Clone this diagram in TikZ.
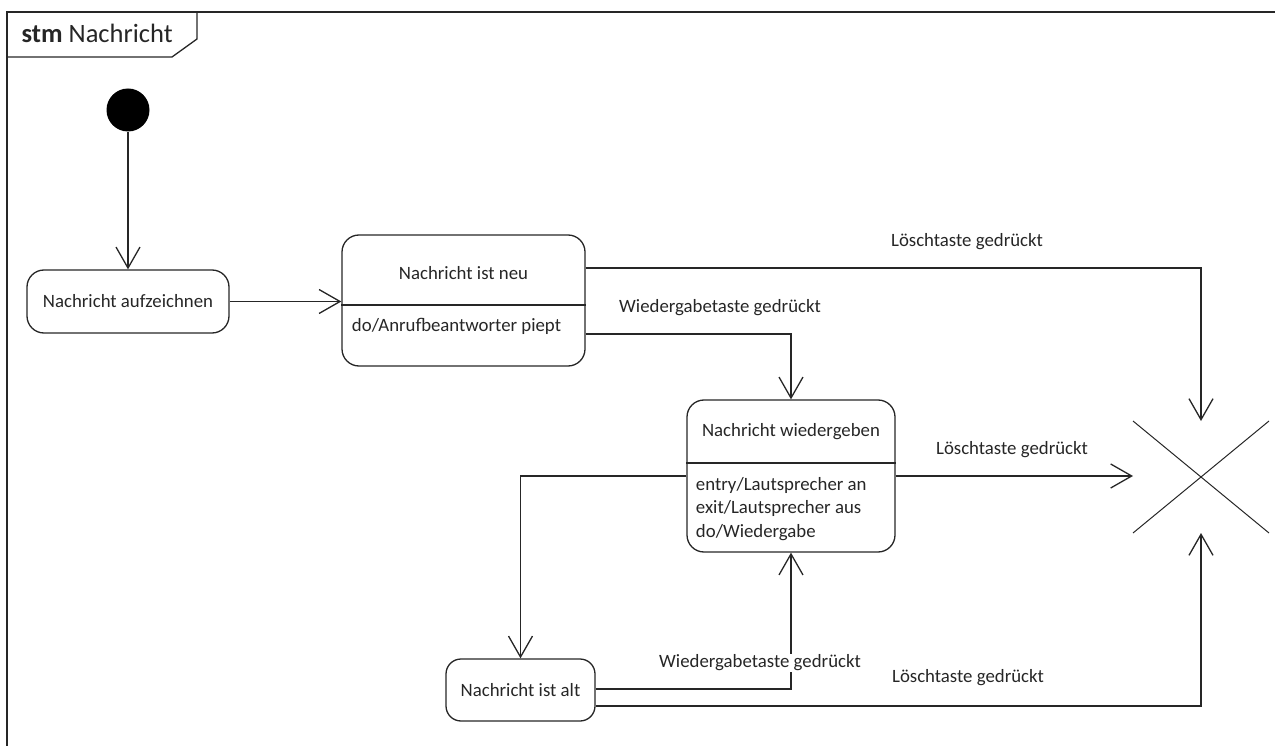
\documentclass[tikz,border=0pt]{standalone}
\usepackage{fontspec}
\setmainfont{Carlito}
\usetikzlibrary{arrows.meta,shapes.misc}
\begin{document}
\begin{tikzpicture}[
  x=1pt, y=-1pt,
  line width=1.3pt,
  color=black!85,
  font=\fontsize{18.8}{23.5}\selectfont,
  state/.style={
    draw,
    rounded corners=17pt,
    inner sep=0pt
  },
  lbl/.style={inner sep=1pt},
  arrow/.style={-{Straight Barb[length=21pt,width=24pt,line width=1.3pt]}}
]
\useasboundingbox (0,0) rectangle (1275,746);
\draw (7,760) -- (7,12) -- (1290,12);
\draw (7,57) -- (172,57) -- (197,39) -- (197,12);
\node[anchor=west, font=\fontsize{26.5}{30}\selectfont, inner sep=0pt] (frame) at (21,33) {\textbf{stm} Nachricht};

\node[circle, fill=black, minimum size=43pt, inner sep=0pt] (init) at (128,110) {};
\node[state, minimum width=202pt, minimum height=63pt] (auf) at (128,301.5) {Nachricht aufzeichnen};
\node[state, minimum width=243pt, minimum height=131pt] (neu) at (463.5,300.5) {};
\node (neutitle) at (463.5,273) {Nachricht ist neu};
\node[anchor=west] (neudo) at (348,326) {do/Anrufbeantworter piept};
\draw (neu.west |- 0,305) -- (neu.east |- 0,305);
\node[state, minimum width=208pt, minimum height=152pt] (wied) at (791,476) {};
\node (wiedtitle) at (791,432) {Nachricht wiedergeben};
\node[anchor=north west, align=left] (wieddo) at (692,473) {entry/Lautsprecher an\\exit/Lautsprecher aus\\do/Wiedergabe};
\draw (wied.west |- 0,463) -- (wied.east |- 0,463);
\node[state, rounded corners=15pt, minimum width=149pt, minimum height=62pt] (alt) at (520.5,690) {Nachricht ist alt};
\node[cross out, draw, line width=1pt, minimum width=104pt, minimum height=70pt, inner sep=0pt, outer xsep=16pt, outer ysep=21pt] (end) at (1201,477) {};

\draw[arrow] (init) -- (auf);
\draw[arrow] (auf.east) -- (auf.east -| neu.west);
\draw[arrow] ([yshift=32.5pt]neu.east) -| (end.north);
\draw[arrow] ([yshift=-33.5pt]neu.east) -| (wied.north);
\draw[arrow] (wied.east) -- (wied.east -| end.west);
\draw[arrow] (wied.west) -| (alt.north);
\draw[arrow] ([yshift=1pt]alt.east) -| (wied.south);
\draw[arrow] ([yshift=-16pt]alt.east) -| (end.south);

\node[lbl] (del1) at (967,242) {Löschtaste gedrückt};
\node[lbl] (play1) at (720,308) {Wiedergabetaste gedrückt};
\node[lbl] (del2) at (1012,450) {Löschtaste gedrückt};
\node[lbl, fill=white] (play2) at (760,663) {Wiedergabetaste gedrückt};
\node[lbl] (del3) at (968,678) {Löschtaste gedrückt};
\end{tikzpicture}
\end{document}
